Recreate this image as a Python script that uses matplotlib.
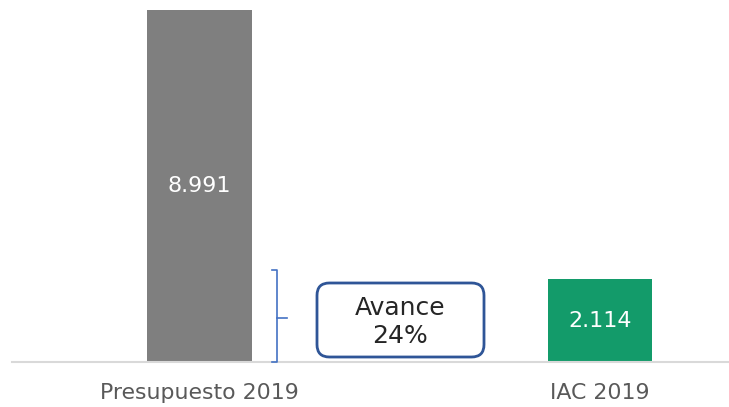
import matplotlib
matplotlib.use("Agg")
import matplotlib.pyplot as plt
from matplotlib.patches import FancyBboxPatch
from matplotlib.lines import Line2D

categories = ["Presupuesto 2019", "IAC 2019"]
values = [8991, 2114]
value_labels = ["8.991", "2.114"]
bar_colors = ["#7f7f7f", "#139b6a"]
avance_label = "Avance\n24%"

plt.rcParams['font.family'] = ['DejaVu Sans']

fig = plt.figure(figsize=(7.29, 4.07), dpi=100)
ax = fig.add_axes([12/729, 45/407, 716/729, 362/407])

x = list(range(len(categories)))
bars = ax.bar(x, values, width=0.262, color=bar_colors, zorder=2)
for b, lab in zip(bars, value_labels):
    ax.text(b.get_x() + b.get_width()/2, b.get_height()/2, lab,
            ha='center', va='center', color='white', fontsize=16)

ax.set_xlim(-0.468, 1.3196)
ax.set_ylim(0, 8991 * 362 / 352)
ax.set_xticks(x)
ax.set_xticklabels(categories, fontsize=15.8, color='#595959')
ax.tick_params(axis='x', length=0, pad=15)
ax.set_yticks([])
for s in ['top', 'right', 'left']:
    ax.spines[s].set_visible(False)
ax.spines['bottom'].set_color('#d9d9d9')
ax.spines['bottom'].set_linewidth(1.5)

def fx(px):
    return px / 729
def fy(py):
    return 1 - py / 407

bc = '#4472c4'
xs = [fx(272), fx(277), fx(277), fx(272)]
ys = [fy(270), fy(270), fy(362), fy(362)]
fig.add_artist(Line2D(xs, ys, color=bc, lw=1.2))
fig.add_artist(Line2D([fx(277), fx(287)], [fy(318), fy(318)], color=bc, lw=1.2))

box = FancyBboxPatch((fx(317), fy(357)), fx(484) - fx(317), fy(283) - fy(357),
                     boxstyle="round,pad=0,rounding_size=0.017",
                     transform=fig.transFigure, facecolor='white',
                     edgecolor='#2f5597', linewidth=2, zorder=3,
                     mutation_aspect=729/407)
fig.add_artist(box)
fig.text(fx(400), fy(322), avance_label, ha='center', va='center',
         fontsize=18, color='#262626', linespacing=1.2, zorder=4)

fig.savefig("out.png", dpi=100)
